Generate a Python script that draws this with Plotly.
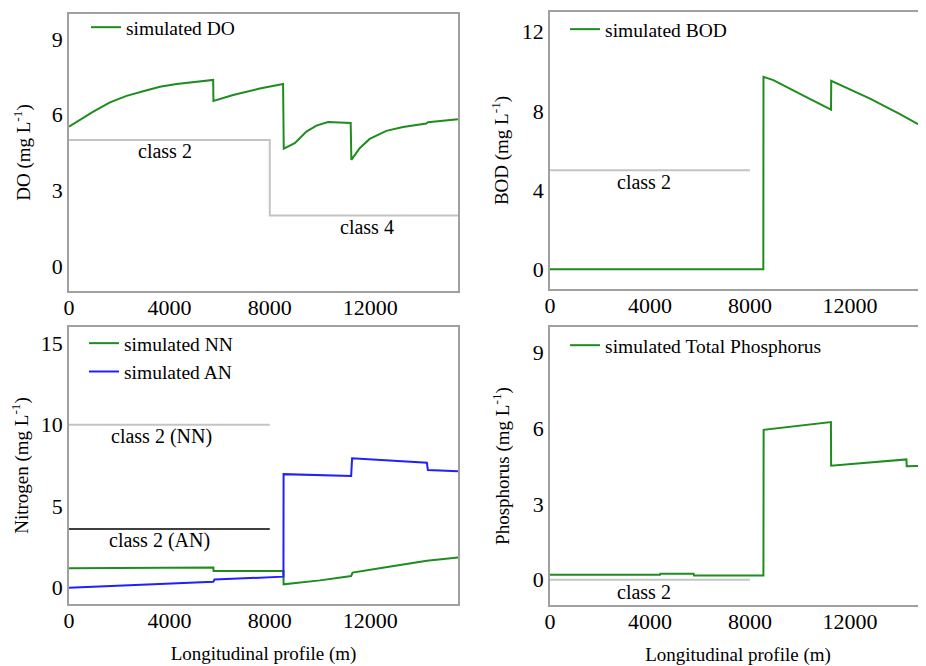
import plotly.graph_objects as go

# ---------------- data ----------------
# DO panel
do_x = [0, 968, 1632, 2295, 2958, 3622, 4285, 4948, 5745, 5755, 6540, 7602, 8530, 8557, 8995, 9460, 9858, 10321, 11224, 11251, 11582, 11980, 12645, 13308, 14237, 14303, 15496]
do_y = [5.53, 6.12, 6.49, 6.75, 6.93, 7.11, 7.22, 7.30, 7.38, 6.55, 6.78, 7.04, 7.22, 4.65, 4.87, 5.33, 5.57, 5.71, 5.67, 4.21, 4.67, 5.04, 5.36, 5.51, 5.65, 5.70, 5.82]
do_class_x = [0, 8000, 15500]
do_class_y = [5, 2, 2]

# BOD panel
bod_x = [0, 8533, 8540, 8933, 10000, 11240, 11250, 12000, 12800, 14000, 15040, 15500]
bod_y = [0.0, 0.0, 9.72, 9.56, 8.86, 8.06, 9.52, 9.08, 8.62, 7.84, 7.11, 6.85]
bod_class_x = [0, 8000]
bod_class_y = [5, 5]

# Nitrogen panel
nn_x = [0, 5750, 5760, 8545, 8550, 10000, 11242, 11300, 12500, 14259, 15522]
nn_y = [1.20, 1.24, 1.03, 1.03, 0.21, 0.45, 0.72, 0.93, 1.22, 1.65, 1.86]
an_x = [0, 5750, 5800, 8545, 8550, 11242, 11280, 14259, 14300, 15522]
an_y = [0.0, 0.37, 0.50, 0.68, 6.97, 6.85, 7.94, 7.67, 7.22, 7.15]
nn_class_x = [0, 8000]
nn_class_y = [10, 10]
an_class_x = [0, 8000]
an_class_y = [3.6, 3.6]

# Phosphorus panel
tp_x = [0, 4400, 4415, 5745, 5760, 8537, 8545, 11237, 11245, 14255, 14270, 15500]
tp_y = [0.20, 0.20, 0.24, 0.24, 0.17, 0.17, 5.93, 6.24, 4.51, 4.76, 4.49, 4.53]
tp_class_x = [0, 8000]
tp_class_y = [0, 0]

x_ticks = [0, 4000, 8000, 12000]
do_ticks = [0, 3, 6, 9]
bod_ticks = [0, 4, 8, 12]
n_ticks = [0, 5, 10, 15]
p_ticks = [0, 3, 6, 9]

GREEN = "#1e8c1e"
BLUE = "#2020ff"
GRAY = "#c4c4c4"
BOX = "#a0a0a0"
FONT = "Liberation Serif"

fig = go.Figure()

def add(x, y, xa, ya, color, name=None, legend=None, shape="linear", width=2):
    fig.add_trace(go.Scatter(
        x=x, y=y, mode="lines", xaxis=xa, yaxis=ya,
        line=dict(color=color, width=width, shape=shape),
        name=name if name else "", showlegend=name is not None,
        legend=legend if legend else "legend", hoverinfo="skip"))

# panel 1 (DO)
add(do_class_x, do_class_y, "x", "y", GRAY, shape="hv")
add(do_x, do_y, "x", "y", GREEN, "simulated DO", "legend")
# panel 2 (BOD)
add(bod_class_x, bod_class_y, "x2", "y2", GRAY)
add(bod_x, bod_y, "x2", "y2", GREEN, "simulated BOD", "legend2")
# panel 3 (Nitrogen)
add(nn_class_x, nn_class_y, "x3", "y3", GRAY)
add(an_class_x, an_class_y, "x3", "y3", "#000000", width=1.5)
add(nn_x, nn_y, "x3", "y3", GREEN, "simulated NN", "legend3")
add(an_x, an_y, "x3", "y3", BLUE, "simulated AN", "legend3")
# panel 4 (Phosphorus)
add(tp_class_x, tp_class_y, "x4", "y4", GRAY)
add(tp_x, tp_y, "x4", "y4", GREEN, "simulated Total Phosphorus", "legend4")

tickfont = dict(family=FONT, size=22, color="black")
titlefont = dict(family=FONT, size=19, color="black")

def xaxis(domain, rng, anchor, title=None):
    d = dict(domain=domain, range=rng, anchor=anchor, tickvals=x_ticks,
             tickformat="d", showgrid=False, zeroline=False, showline=True,
             linecolor=BOX, linewidth=1.5, mirror=True, ticks="",
             tickfont=tickfont, automargin=False, ticklabelstandoff=-4)
    if title:
        d["title"] = dict(text=title, font=titlefont, standoff=15)
    return d

def yaxis(domain, rng, anchor, ticks, title, standoff):
    return dict(domain=domain, range=rng, anchor=anchor, tickvals=ticks,
                showgrid=False, zeroline=False, showline=True,
                linecolor=BOX, linewidth=1.5, mirror=True, ticks="",
                tickfont=tickfont, automargin=False,
                title=dict(text=title, font=titlefont, standoff=standoff))

# the page body adds an 8px offset, so the figure is 8px smaller each way
fig.update_layout(
    width=918, height=658,
    margin=dict(l=0, r=0, t=0, b=0, autoexpand=False),
    paper_bgcolor="white", plot_bgcolor="white",
    font=dict(family=FONT, color="black"),
    xaxis=xaxis([0.06645, 0.49020], [0, 15500], "y"),
    yaxis=yaxis([0.56991, 0.99088], [-1, 10], "x", do_ticks, "DO (mg L<sup>-1</sup>)", 16),
    xaxis2=xaxis([0.59041, 1.0], [0, 15040], "y2"),
    yaxis2=yaxis([0.57295, 0.99392], [-1, 13], "x2", bod_ticks, "BOD (mg L<sup>-1</sup>)", 8),
    xaxis3=xaxis([0.06645, 0.49020], [0, 15500], "y3", "Longitudinal profile (m)"),
    yaxis3=yaxis([0.09422, 0.51520], [-1, 16], "x3", n_ticks, "Nitrogen (mg L<sup>-1</sup>)", 8),
    xaxis4=xaxis([0.59041, 1.0], [0, 15040], "y4", "Longitudinal profile (m)"),
    yaxis4=yaxis([0.09271, 0.51520], [-1, 10], "x4", p_ticks, "Phosphorus (mg L<sup>-1</sup>)", 18),
)

legfont = dict(family=FONT, size=19.5, color="black")
def leg(x, y):
    return dict(x=x, y=y, xanchor="left", yanchor="top", bgcolor="rgba(0,0,0,0)",
                font=legfont, borderwidth=0, itemwidth=30, tracegroupgap=0)

fig.update_layout(
    legend=leg(0.085, 1.0),
    legend2=leg(0.6068, 0.997),
    legend3=leg(0.0828, 0.5198),
    legend4=leg(0.6068, 0.5167),
)

# class labels
ann = [
    ("x", "y", 3830, 4.55, "class 2"),
    ("x", "y", 11870, 1.55, "class 4"),
    ("x2", "y2", 3760, 4.4, "class 2"),
    ("x3", "y3", 3700, 9.3, "class 2 (NN)"),
    ("x3", "y3", 3600, 2.9, "class 2 (AN)"),
    ("x4", "y4", 3750, -0.5, "class 2"),
]
for xr, yr, xv, yv, t in ann:
    fig.add_annotation(x=xv, y=yv, xref=xr, yref=yr, text=t, showarrow=False,
                       font=dict(family=FONT, size=20, color="black"))

fig.write_html("out.html")
